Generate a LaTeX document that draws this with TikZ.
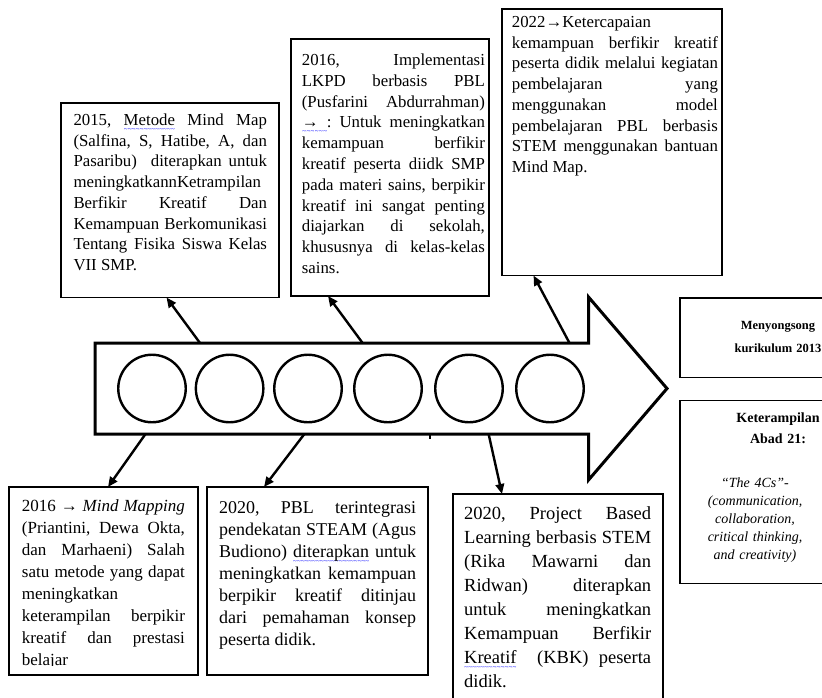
\documentclass[tikz,border=0pt]{standalone}
\usepackage{fontspec}
\setmainfont{Liberation Serif}
\usetikzlibrary{arrows.meta}
\newcommand{\spellmark}[1]{\setbox0\hbox{#1}\rlap{\textcolor{blue}{\raisebox{-6pt}{\hbox to \wd0{\fontsize{7}{7}\selectfont\xleaders\hbox{\char"7E}\hfill}}}}#1}
\tolerance=10000
\hbadness=10000
\hfuzz=60pt
\hyphenpenalty=10000
\exhyphenpenalty=10000

\begin{document}
\begin{tikzpicture}[x=1pt, y=-1pt]
        \tikzset{
            event/.style={
                    rectangle,
                    draw=black,
                    line width=1.2pt,
                    inner sep=0pt,
                    outer sep=0pt,
                },
            eventtext/.style={
                    anchor=base west,
                    inner sep=0pt,
                    align=justify,
                },
            headtext/.style={
                    anchor=base,
                    inner sep=0pt,
                    align=center,
                    text width=190pt,
                },
            stop/.style={circle, draw=black, line width=2.4pt, minimum size=67.5pt, inner sep=0pt},
            link/.style={-{Triangle[length=10pt, width=8.5pt]}, line width=2.4pt},
        }
        \useasboundingbox (0, 0) rectangle (822, 697);
        \fill[white] (0, 0) rectangle (822, 697);
        % \draw[help lines] (0, 0) grid[step=50] (822, 697);

        % timeline
        \draw[line width=3pt, fill=white] (95, 343) -- (588.5, 343) -- (588.5, 297) -- (667, 388.5)
            -- (588.5, 480) -- (588.5, 434) -- (95, 434) -- cycle;
        \draw[line width=1.5pt] (430, 434) -- (430, 439);
        \foreach \x [count=\i] in {152, 229.6, 308, 388, 469, 550}
            \node[stop] (stop\i) at (\x, 388.5) {};
        \coordinate (up1) at (200, 343);
        \coordinate (up2) at (362.6, 343);
        \coordinate (up3) at (569.5, 343);
        \coordinate (dn1) at (145.5, 434);
        \coordinate (dn2) at (304.4, 434);
        \coordinate (dn3) at (488.6, 434);

        \node[event, minimum width=218pt, minimum height=194.5pt] (y2015) at (170, 200.25) {};
        \node[event, minimum width=198pt, minimum height=257pt] (y2016a) at (390, 167.5) {};
        \node[event, minimum width=220pt, minimum height=266.5pt] (y2022) at (612, 142.25) {};
        \node[event, minimum width=189pt, minimum height=188pt] (y2016b) at (103.5, 581) {};
        \node[event, minimum width=221pt, minimum height=188pt] (y2020a) at (317.5, 581) {};
        \node[event, minimum width=210pt, minimum height=230pt] (y2020b) at (558, 609) {};
        \node[event, minimum width=196pt, minimum height=79.5pt] (kurikulum) at (778, 337.75) {};
        \node[event, minimum width=196pt, minimum height=182.5pt] (abad) at (778, 491.85) {};

        \node[eventtext, text width=193.5pt, font=\fontsize{16.8}{20.7}\selectfont] (t2015) at (73.3, 125.5) {%
            2015,~\spellmark{Metode}~Mind~Map\linebreak
            (Salfina,~S,~Hatibe,~A,~dan\linebreak
            Pasaribu)~~diterapkan~untuk\linebreak
            meningkatkannKetrampilan\linebreak
            Berfikir~Kreatif~Dan\linebreak
            Kemampuan~Berkomunikasi\linebreak
            Tentang~Fisika~Siswa~Kelas\linebreak
            VII~SMP.};
        \node[eventtext, text width=183pt, font=\fontsize{16.8}{20.8}\selectfont] (t2016a) at (301.7, 65.5) {%
            2016,~Implementasi\linebreak
            LKPD~berbasis~PBL\linebreak
            (Pusfarini~Abdurrahman)\linebreak
            \spellmark{→~:}~Untuk~meningkatkan\linebreak
            kemampuan~berfikir\linebreak
            kreatif~peserta~diidk~SMP\linebreak
            pada~materi~sains,~berpikir\linebreak
            kreatif~ini~sangat~penting\linebreak
            diajarkan~di~sekolah,\linebreak
            khususnya~di~kelas-kelas\linebreak
            sains.};
        \node[eventtext, text width=206pt, font=\fontsize{16.8}{20.7}\selectfont] (t2022) at (511.7, 27.5) {%
            2022→Ketercapaian\linebreak
            kemampuan~berfikir~kreatif\linebreak
            peserta~didik~melalui~kegiatan\linebreak
            pembelajaran~yang\linebreak
            menggunakan~model\linebreak
            pembelajaran~PBL~berbasis\linebreak
            STEM~menggunakan~bantuan\linebreak
            Mind~Map.};
        \begin{scope}
            \clip (9, 487) rectangle (198, 665);
            \node[eventtext, text width=163pt, font=\fontsize{17}{22}\selectfont] (t2016b) at (21.7, 511.5) {%
                2016~→~\textit{Mind~Mapping}\linebreak
                (Priantini,~Dewa~Okta,\linebreak
                dan~Marhaeni)~Salah\linebreak
                satu~metode~yang~dapat\linebreak
                meningkatkan\linebreak
                keterampilan~berpikir\linebreak
                kreatif~dan~prestasi\linebreak
                belajar};
        \end{scope}
        \node[eventtext, text width=197pt, font=\fontsize{18}{22}\selectfont] (t2020a) at (219, 513.5) {%
            2020,~PBL~terintegrasi\linebreak
            pendekatan~STEAM~(Agus\linebreak
            Budiono)~\spellmark{diterapkan}~untuk\linebreak
            meningkatkan~kemampuan\linebreak
            berpikir~kreatif~ditinjau\linebreak
            dari~pemahaman~konsep\linebreak
            peserta~didik.};
        \node[eventtext, text width=187pt, font=\fontsize{18.5}{24}\selectfont] (t2020b) at (464, 519) {%
            2020,~Project~Based\linebreak
            Learning~berbasis~STEM\linebreak
            (Rika~Mawarni~dan\linebreak
            Ridwan)~diterapkan\linebreak
            untuk~meningkatkan\linebreak
            Kemampuan~Berfikir\linebreak
            \spellmark{Kreatif}~~(KBK)~peserta\linebreak
            didik.};
        \node[headtext, font=\bfseries\fontsize{12.5}{23}\selectfont] (tkurikulum) at (778, 329.5) {Menyongsong\\kurikulum 2013};
        \node[headtext, font=\bfseries\fontsize{14}{21}\selectfont] (tabad) at (778, 422) {Keterampilan\\Abad 21:};
        \node[headtext, font=\itshape\fontsize{14}{18}\selectfont] (t4cs) at (755, 487.5) {“The 4Cs”-\\(communication,\\collaboration,\\critical thinking,\\and creativity)};

        \draw[link] (up1) -- ([xshift=-3.5pt]y2015.south);
        \draw[link] (up2) -- ([xshift=-62pt]y2016a.south);
        \draw[link] (up3) -- ([xshift=-78.5pt]y2022.south);
        \draw[link] (dn1) -- ([xshift=4.5pt]y2016b.north);
        \draw[link] (dn2) -- ([xshift=-53.5pt]y2020a.north);
        \draw[link] (dn3) -- ([xshift=-56pt]y2020b.north);
    \end{tikzpicture}
\end{document}
